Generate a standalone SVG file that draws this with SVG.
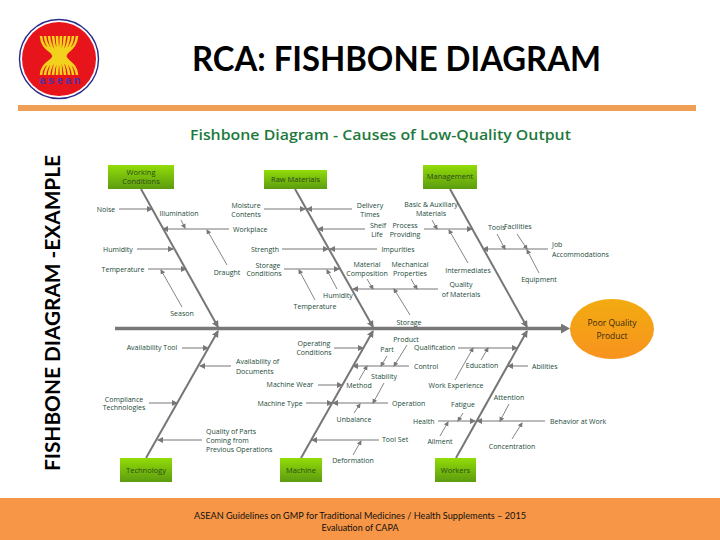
<svg xmlns="http://www.w3.org/2000/svg" width="720" height="540" viewBox="0 0 720 540">
<style>
.t{font-family:"Open Sans","Liberation Sans",sans-serif;font-size:7px;fill:#1a4a38;text-anchor:middle}
.s{text-anchor:start}
.b{font-family:"Open Sans","Liberation Sans",sans-serif;font-size:7.500px;fill:#2a4a18;text-anchor:middle}
.e{font-family:"Open Sans","Liberation Sans",sans-serif;font-size:8.500px;fill:#3a2a10;text-anchor:middle}
.h{font-family:Lato,"Liberation Sans",sans-serif;fill:#000;font-weight:700}
.box{fill:url(#g)}
.bone{stroke:#767676;stroke-width:2;fill:none;marker-end:url(#ab)}
.c{stroke:#777;stroke-width:1;fill:none;marker-end:url(#ac)}
.l{stroke:#a3a3a3;stroke-width:1.5;fill:none;marker-end:url(#ac)}
.m{stroke:#777;stroke-width:.9;fill:none;marker-end:url(#am)}
.st{stroke:#f2d21c;stroke-width:2.6;fill:none}
</style>
<defs>
<linearGradient id="g" x1="0" y1="0" x2="0" y2="1"><stop offset="0" stop-color="#92dc08"/><stop offset="1" stop-color="#5c9c10"/></linearGradient>
<linearGradient id="o" x1="0" y1="0" x2="0" y2="1"><stop offset="0" stop-color="#f2ab10"/><stop offset="1" stop-color="#f8931f"/></linearGradient>
<marker id="ab" markerUnits="userSpaceOnUse" markerWidth="8" markerHeight="8" refX="6" refY="3.5" orient="auto"><path d="M0 0L7 3.5L0 7z" fill="#767676"/></marker>
<marker id="ac" markerUnits="userSpaceOnUse" markerWidth="8" markerHeight="8" refX="5" refY="3" orient="auto"><path d="M0 0L6 3L0 6z" fill="#777"/></marker>
<marker id="am" markerUnits="userSpaceOnUse" markerWidth="6" markerHeight="6" refX="4" refY="2.5" orient="auto"><path d="M0 0L5 2.5L0 5z" fill="#777"/></marker>
<marker id="as" markerUnits="userSpaceOnUse" markerWidth="12" markerHeight="12" refX="5" refY="5" orient="auto"><path d="M0 0L9 5L0 10z" fill="#767676"/></marker>
</defs>
<rect width="720" height="540" fill="#fff"/>

<g id="logo">
<circle cx="59" cy="59" r="39.500" fill="#fff" stroke="#2a2a8c" stroke-width="1.400"/>
<circle cx="59" cy="59" r="37" fill="#e8141c"/>
<path class="st" d="M41 36C42 50 53 50 53.500 56C53 62 42 62 41 75M45 36C46 50 54.500 50 55 56C54.500 62 46 62 45 75M49 36C50 50 56 50 56.300 56C56 62 50 62 49 75M53 36C54 50 57.300 50 57.600 56C57.300 62 54 62 53 75M57 36C57.500 50 58.500 50 58.800 56C58.500 62 57.500 62 57 75M61 36C60.500 50 60 50 60 56C60 62 60.500 62 61 75M65 36C64 50 61.500 50 61.300 56C61.500 62 64 62 65 75M69 36C68 50 63 50 62.600 56C63 62 68 62 69 75M73 36C72 50 64.200 50 64 56C64.200 62 72 62 73 75M77 36C76 50 65.500 50 65.300 56C65.500 62 76 62 77 75"/>
<text x="60" y="84" font-family="'Liberation Sans',sans-serif" font-size="11" font-weight="bold" fill="#4a32a8" text-anchor="middle" textLength="41" lengthAdjust="spacing">asean</text>
</g>

<text id="title" class="h" x="192" y="71" font-size="35" textLength="409" lengthAdjust="spacingAndGlyphs">RCA: FISHBONE DIAGRAM</text>
<rect id="rule" x="18" y="105" width="678" height="6" fill="#ef9f55"/>
<text id="side-title" class="h" transform="translate(60 471) rotate(-90)" font-size="21" textLength="316" lengthAdjust="spacingAndGlyphs">FISHBONE DIAGRAM -EXAMPLE</text>
<text id="chart-title" x="190" y="140" font-family="'Open Sans','Liberation Sans',sans-serif" font-size="15" font-weight="600" fill="#1d7a3c" textLength="381" lengthAdjust="spacingAndGlyphs">Fishbone Diagram - Causes of Low-Quality Output</text>

<g id="connectors">
<path d="M115 328.500H566" stroke="#787878" stroke-width="3.500" fill="none" marker-end="url(#as)"/>
<path class="bone" d="M141 189L218 327"/>
<path class="bone" d="M295 189L373 327"/>
<path class="bone" d="M450 189L527 327"/>
<path class="bone" d="M146 458L218 331"/>
<path class="bone" d="M301 458L373 331"/>
<path class="bone" d="M456 458L527 331"/>

<path class="c" d="M119 209H152"/>
<path class="c" d="M229 229H163"/>
<path class="m" d="M181 220L185 228"/>
<path class="m" d="M227 265L207 230"/>
<path class="l" d="M137 249H173"/>
<path class="c" d="M148 269H186"/>
<path class="m" d="M182 307L161 270"/>

<path class="c" d="M264 209H305"/>
<path class="c" d="M352 209H307"/>
<path class="c" d="M365 229H318"/>
<path class="l" d="M282 249H328"/>
<path class="l" d="M377 249H330"/>
<path class="c" d="M284 269H339"/>
<path class="m" d="M337 289L327 270"/>
<path class="m" d="M315 300L299 270"/>
<path class="l" d="M438 289H353"/>
<path class="m" d="M367 279L373 289"/>
<path class="m" d="M411 279L417 289"/>
<path class="m" d="M410 315L394 289"/>

<path class="c" d="M424 229H472"/>
<path class="m" d="M432 220L437 229"/>
<path class="m" d="M468 263L449 230"/>
<path class="l" d="M548 249H483"/>
<path class="m" d="M497 234L505 249"/>
<path class="m" d="M517 234L527 249"/>
<path class="m" d="M539 273L527 250"/>

<path class="l" d="M182 348H208"/>
<path class="l" d="M231 366H200"/>
<path class="c" d="M149 403H177"/>
<path class="c" d="M202 440H158"/>

<path class="l" d="M334 348H363"/>
<path class="l" d="M409 366H353"/>
<path class="m" d="M387 356L381 366"/>
<path class="m" d="M407 345L394 366"/>
<path class="m" d="M359 380L367 366"/>
<path class="l" d="M318 385H342"/>
<path class="c" d="M306 403H332"/>
<path class="c" d="M388 403H333"/>
<path class="m" d="M384 383L373 403"/>
<path class="m" d="M354 413L360 404"/>
<path class="c" d="M379 440H312"/>
<path class="m" d="M353 455L361 441"/>

<path class="l" d="M458 348H517"/>
<path class="m" d="M455 380L473 348"/>
<path class="m" d="M481 360L488 348"/>
<path class="l" d="M528 366H508"/>
<path class="c" d="M438 421H475"/>
<path class="m" d="M463 413L458 421"/>
<path class="m" d="M440 436L448 422"/>
<path class="c" d="M545 421H477"/>
<path class="m" d="M509 404L500 421"/>
<path class="m" d="M512 439L522 423"/>
</g>

<g id="node-working-conditions"><rect class="box" x="108" y="165" width="66" height="24"/><text class="b" x="141" y="175">Working</text><text class="b" x="141" y="184">Conditions</text></g>
<g id="node-raw-materials"><rect class="box" x="264" y="170" width="63" height="19"/><text class="b" x="295.500" y="182">Raw Materials</text></g>
<g id="node-management"><rect class="box" x="423" y="165" width="54" height="24"/><text class="b" x="450" y="179">Management</text></g>
<g id="node-technology"><rect class="box" x="120" y="458" width="52" height="24"/><text class="b" x="146" y="473">Technology</text></g>
<g id="node-machine"><rect class="box" x="280" y="458" width="42" height="24"/><text class="b" x="301" y="473">Machine</text></g>
<g id="node-workers"><rect class="box" x="435" y="458" width="41" height="24"/><text class="b" x="455.500" y="473">Workers</text></g>
<g id="node-effect"><ellipse cx="612" cy="329" rx="42" ry="30" fill="url(#o)"/><text class="e" x="612" y="326">Poor Quality</text><text class="e" x="612" y="339">Product</text></g>

<g id="labels">
<text class="t" x="106" y="212">Noise</text>
<text class="t" x="179" y="216">Illumination</text>
<text class="t s" x="233" y="232">Workplace</text>
<text class="t" x="227" y="275">Draught</text>
<text class="t" x="118" y="252">Humidity</text>
<text class="t" x="123" y="272">Temperature</text>
<text class="t" x="182" y="316">Season</text>
<text class="t" x="246" y="208">Moisture</text><text class="t" x="246" y="217">Contents</text>
<text class="t" x="370" y="208">Delivery</text><text class="t" x="370" y="217">Times</text>
<text class="t" x="378" y="228">Shelf</text><text class="t" x="377" y="237">Life</text>
<text class="t" x="405" y="228">Process</text><text class="t" x="405" y="237">Providing</text>
<text class="t" x="431" y="207">Basic &amp; Auxiliary</text><text class="t" x="431" y="216">Materials</text>
<text class="t" x="468" y="273">Intermediates</text>
<text class="t s" x="488" y="230">Tools</text><text class="t s" x="504" y="229">Facilities</text>
<text class="t s" x="552" y="247">Job</text><text class="t s" x="552" y="257">Accommodations</text>
<text class="t" x="539" y="282">Equipment</text>
<text class="t" x="265" y="252">Strength</text>
<text class="t" x="398" y="252">Impurities</text>
<text class="t" x="268" y="268">Storage</text><text class="t" x="264" y="276">Conditions</text>
<text class="t" x="338" y="298">Humidity</text>
<text class="t" x="315" y="309">Temperature</text>
<text class="t" x="367" y="267">Material</text><text class="t" x="367" y="276">Composition</text>
<text class="t" x="410" y="267">Mechanical</text><text class="t" x="410" y="276">Properties</text>
<text class="t" x="461" y="287">Quality</text><text class="t" x="461" y="297">of Materials</text>
<text class="t" x="409" y="325">Storage</text>
<text class="t" x="152" y="350">Availability Tool</text>
<text class="t s" x="236" y="364">Availability of</text><text class="t s" x="236" y="374">Documents</text>
<text class="t" x="124" y="402">Compliance</text><text class="t" x="124" y="410">Technologies</text>
<text class="t s" x="206" y="434">Quality of Parts</text><text class="t s" x="206" y="443">Coming from</text><text class="t s" x="206" y="452">Previous Operations</text>
<text class="t" x="314" y="346">Operating</text><text class="t" x="314" y="355">Conditions</text>
<text class="t" x="406" y="342">Product</text>
<text class="t" x="387" y="352">Part</text>
<text class="t s" x="414" y="350">Qualification</text>
<text class="t s" x="414" y="369">Control</text>
<text class="t" x="359" y="388">Method</text>
<text class="t" x="384" y="379">Stability</text>
<text class="t" x="290" y="387">Machine Wear</text>
<text class="t" x="280" y="406">Machine Type</text>
<text class="t s" x="392" y="406">Operation</text>
<text class="t" x="354" y="422">Unbalance</text>
<text class="t s" x="382" y="442">Tool Set</text>
<text class="t" x="353" y="463">Deformation</text>
<text class="t" x="456" y="388">Work Experience</text>
<text class="t" x="482" y="368">Education</text>
<text class="t s" x="532" y="369">Abilities</text>
<text class="t s" x="413" y="424">Health</text>
<text class="t" x="463" y="407">Fatigue</text>
<text class="t" x="440" y="444">Ailment</text>
<text class="t" x="509" y="400">Attention</text>
<text class="t s" x="550" y="424">Behavior at Work</text>
<text class="t" x="512" y="449">Concentration</text>
</g>

<g id="footer">
<rect x="0" y="498" width="720" height="42" fill="#f79646"/>
<text x="194" y="519" font-family="Lato,'Liberation Sans',sans-serif" font-size="9" fill="#111" textLength="332" lengthAdjust="spacingAndGlyphs">ASEAN Guidelines on GMP for Traditional Medicines  / Health Supplements – 2015</text>
<text x="360" y="531" font-family="Lato,'Liberation Sans',sans-serif" font-size="9" fill="#111" text-anchor="middle">Evaluation of CAPA</text>
</g>
</svg>
